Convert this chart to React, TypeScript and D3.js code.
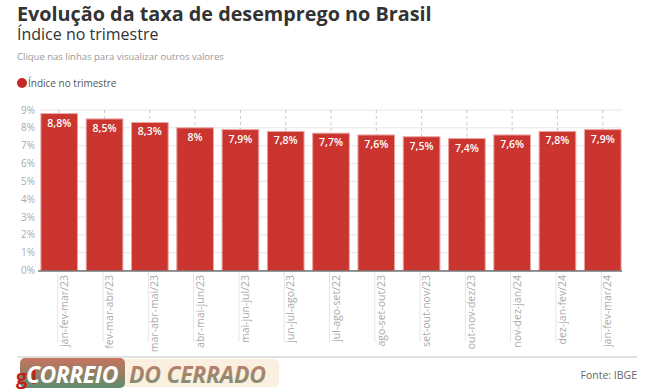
import React from 'react';
import * as d3 from 'd3';

const categories = [
  'jan-fev-mar/23', 'fev-mar-abr/23', 'mar-abr-mai/23', 'abr-mai-jun/23',
  'mai-jun-jul/23', 'jun-jul-ago/23', 'jul-ago-set/22', 'ago-set-out/23',
  'set-out-nov/23', 'out-nov-dez/23', 'nov-dez-jan/24', 'dez-jan-fev/24',
  'jan-fev-mar/24',
];
const values = [8.8, 8.5, 8.3, 8.0, 7.9, 7.8, 7.7, 7.6, 7.5, 7.4, 7.6, 7.8, 7.9];
const yTicks = [0, 1, 2, 3, 4, 5, 6, 7, 8, 9];

const W = 650;
const H = 392;
const FONT = '"Open Sans", "Noto Sans", sans-serif';
const RED = '#c72a24';

const fmt = (v: number) => String(v).replace('.', ',') + '%';

export default function App() {
  const x = d3.scaleBand<string>().domain(categories).range([40, 622]).paddingInner(0.19).paddingOuter(0.02);
  const y = d3.scaleLinear().domain([0, 9]).range([270.5, 110]);
  const bw = x.bandwidth();

  return (
    <svg width={W} height={H} style={{ position: 'absolute', left: 0, top: 0, fontFamily: FONT }}>
      <defs>
        <linearGradient id="logoA" x1="0" y1="0" x2="0" y2="1">
          <stop offset="0" stopColor="#c8735e" />
          <stop offset="1" stopColor="#5f8c6c" />
        </linearGradient>
        <linearGradient id="logoB" x1="0" y1="0" x2="0" y2="1">
          <stop offset="0" stopColor="#d07a66" />
          <stop offset="1" stopColor="#6f9477" />
        </linearGradient>
      </defs>
      <rect width={W} height={H} fill="#fff" />

      {/* titles */}
      <text x={17} y={21} fontSize={19.8} fontWeight={700} fill="#333">Evolução da taxa de desemprego no Brasil</text>
      <text x={17} y={40} fontSize={16} fill="#333">Índice no trimestre</text>
      <text x={17} y={60} fontSize={9.5} fill="#999">Clique nas linhas para visualizar outros valores</text>

      {/* legend */}
      <circle cx={22} cy={83} r={5} fill={RED} />
      <text x={28} y={86.5} fontSize={10} fill="#555">Índice no trimestre</text>

      {/* horizontal grid */}
      {yTicks.map(t => (
        <g key={t}>
          <line x1={40} x2={622} y1={y(t)} y2={y(t)} stroke="#e6e6e6" strokeWidth={1} />
          <text x={35} y={y(t) + 3.5} fontSize={10} fill="#aaa" textAnchor="end">{t}%</text>
        </g>
      ))}

      {/* vertical dashed grid */}
      {categories.map(c => {
        const cx = (x(c) as number) + bw / 2;
        return (
          <line key={c} x1={cx} x2={cx} y1={110} y2={270} stroke="#bbb" strokeDasharray="3,3" strokeWidth={0.8} />
        );
      })}

      {/* bars */}
      {categories.map((c, i) => {
        const x0 = x(c) as number;
        return (
          <g key={c}>
            <rect x={x0} y={y(values[i])} width={bw} height={y(0) - y(values[i])}
              fill={RED} fillOpacity={0.95} stroke="#eaa5a2" strokeWidth={1} />
            <text x={x0 + bw / 2} y={y(values[i]) + 13} fontSize={10.5} fontWeight={600}
              fill="#fff" textAnchor="middle">{fmt(values[i])}</text>
          </g>
        );
      })}

      {/* axis */}
      <line x1={38} x2={622} y1={271} y2={271} stroke="#333" strokeWidth={1.2} />
      {categories.map(c => {
        const cx = (x(c) as number) + bw / 2 - 1.5;
        return (
          <g key={c}>
            <line x1={cx} x2={cx} y1={272} y2={342} stroke="#e6e6e6" strokeWidth={1} />
            <text transform={`translate(${cx + 10},${275}) rotate(-90)`} fontSize={10.5}
              fill="#aaa" textAnchor="end">{c}</text>
          </g>
        );
      })}

      {/* footer */}
      <line x1={17} x2={637} y1={357} y2={357} stroke="#e0e0e0" strokeWidth={2} />
      <text x={637} y={379} fontSize={10.5} fill="#666" textAnchor="end">Fonte: IBGE</text>

      {/* watermark */}
      <rect x={22} y={359} width={257} height={28} rx={5} fill="#fbeedd" fillOpacity={0.9} />
      <rect x={20} y={358} width={105} height={30} rx={5} fill="url(#logoA)" />
      <text x={16} y={384} fontSize={20} fontWeight={700} fill="#c0201c">g1</text>
      <text x={26} y={383} fontSize={23} fontWeight={700} fontStyle="italic" fill="#fff"
        letterSpacing={-0.5}>CORREIO</text>
      <text x={129} y={383} fontSize={23} fontWeight={700} fontStyle="italic" fill="url(#logoB)"
        letterSpacing={-0.3}>DO CERRADO</text>
    </svg>
  );
}
